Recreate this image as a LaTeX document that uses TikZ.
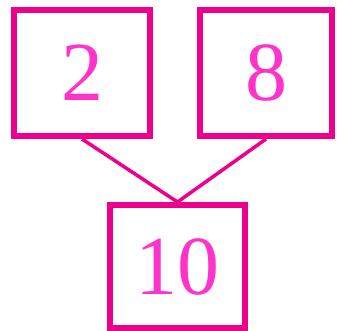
\documentclass[tikz,border=0pt]{standalone}
\usepackage{fontspec}
\setmainfont{Liberation Serif}
\definecolor{boxpink}{RGB}{236,0,140}
\definecolor{numpink}{RGB}{255,51,204}
\begin{document}
\begin{tikzpicture}[x=1pt,y=-1pt,
  numbox/.style={draw=boxpink, line width=6pt, text=numpink, inner sep=0pt,
    font=\fontsize{84}{84}\selectfont},
  link/.style={draw=boxpink, line width=3.5pt}]
\useasboundingbox (0,0) rectangle (337,331);
\node[numbox, minimum width=136pt, minimum height=126pt] (a) at (82,73) {2};
\node[numbox, minimum width=132pt, minimum height=126pt] (b) at (266,73) {8};
\node[numbox, minimum width=135pt, minimum height=123pt] (c) at (177.5,266.5) {10};
\draw[link] (a.south) -- (c.north) -- (b.south);
\end{tikzpicture}
\end{document}
